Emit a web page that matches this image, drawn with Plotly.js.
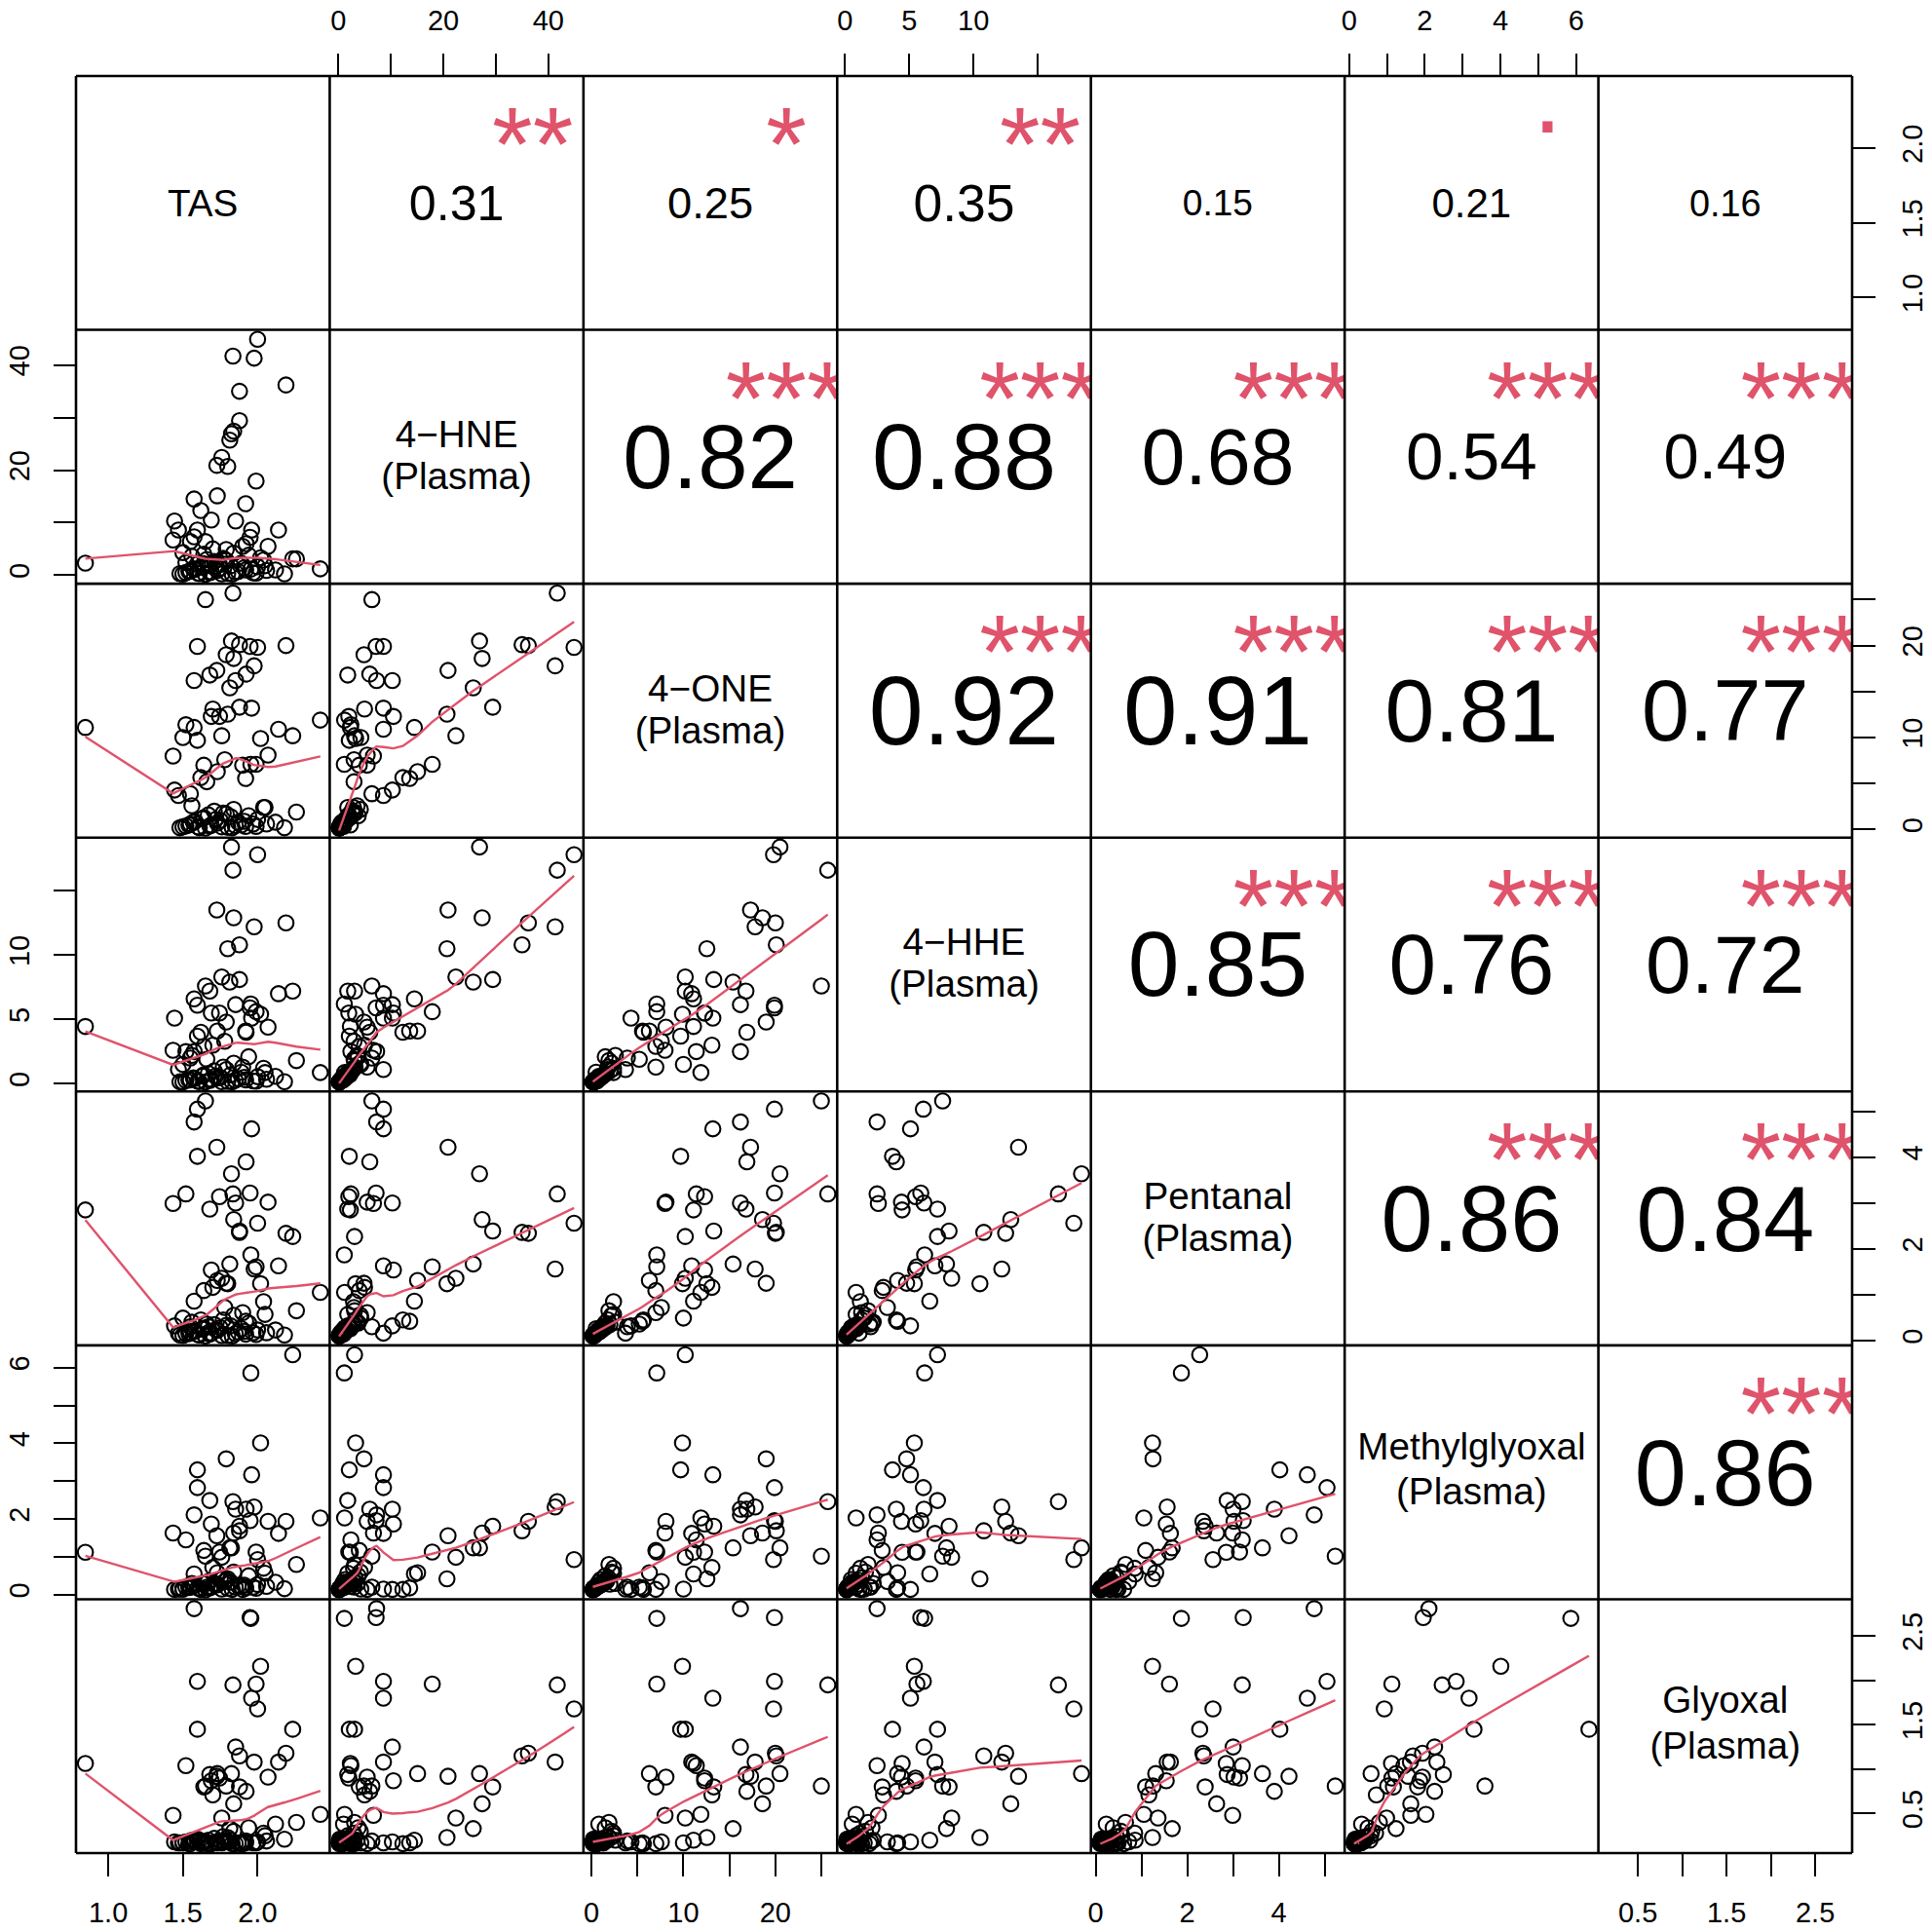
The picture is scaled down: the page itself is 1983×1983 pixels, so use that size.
<!DOCTYPE html>
<html>
<head>
<meta charset="utf-8">
<script src="https://cdn.plot.ly/plotly-3.0.1.min.js"></script>
<style>html,body{margin:0;padding:0;background:#fff}#chart{width:1983px;height:1983px}</style>
</head>
<body>
<div id="chart"></div>
<script>
// ---------------- DATA ----------------
const varLabels = ["TAS", "4\u2212HNE\n(Plasma)", "4\u2212ONE\n(Plasma)", "4\u2212HHE\n(Plasma)", "Pentanal\n(Plasma)", "Methylglyoxal\n(Plasma)", "Glyoxal\n(Plasma)"];

const tas = [2.00,1.835,1.977,1.825,1.727,1.84,2.19,1.879,1.80,1.76,1.814,1.879,
  1.575,1.99,1.73,1.92,1.62,1.444,1.47,1.55,1.853,1.69,
  1.651,1.79,1.597,1.95,1.923,1.68,1.575,1.70,1.96,2.235,1.955,2.02,1.597,
  2.42,1.52,2.14,1.50,2.07,1.434,1.78,1.66,0.847,1.745,1.64,1.90,1.56,2.05,
  1.48,1.52,1.55,1.58,1.60,1.63,1.65,1.67,1.69,1.71,1.73,1.75,1.77,1.80,1.82,1.84,1.87,1.89,1.92,1.94,1.97,2.00,2.04,2.18,2.12,2.26,
  1.50,1.54,1.57,1.61,1.64,1.68,1.72,1.76,1.79,1.85,1.91,1.99,2.06,1.83];
const hne = [44.9,41.7,41.3,26.9,20.9,27.4,36.2,35.0,20.7,22.4,25.7,29.4,
  14.5,17.9,15.1,13.6,12.3,10.3,8.6,6.4,10.3,10.5,
  6.4,4.9,8.6,7.2,6.0,1.8,7.3,5.0,8.6,3.1,1.15,3.3,2.1,
  1.2,2.4,8.6,4.3,5.5,6.7,3.0,3.0,2.3,2.0,4.0,5.5,3.6,1.8,
  0.3,0.5,0.8,1.1,0.4,1.5,0.16,2.0,0.6,2.6,0.9,1.3,3.2,0.35,1.8,4.2,0.7,2.3,1.0,3.8,0.45,1.6,2.9,0.25,1.0,3.1,
  0.2,0.7,1.2,0.3,2.2,0.5,1.7,0.25,2.8,0.6,1.4,0.4,0.9,0.2];
const one = [19.8,25.7,17.8,20.5,17.3,18.6,20.0,20.1,12.55,10.2,15.4,13.3,
  11.1,7.1,6.3,5.55,5.65,4.3,3.7,3.9,16.2,12.3,
  25.0,19.0,19.9,19.9,16.9,16.8,16.2,13.1,13.2,10.2,7.1,9.9,9.7,
  11.9,11.4,10.9,10.0,8.1,8.0,7.6,5.2,11.1,12.3,7.0,7.0,2.6,2.4,
  0.2,0.4,0.6,0.9,0.3,1.2,0.15,1.6,0.5,2.0,0.7,1.0,1.8,0.25,1.4,2.2,0.8,0.5,0.35,1.5,0.6,1.1,2.4,0.2,0.8,1.9,
  0.3,0.5,0.8,0.2,1.3,0.4,1.1,0.3,1.7,0.45,0.9,0.35,0.6,0.2];
const hhe = [17.8,16.6,12.2,18.4,13.5,12.9,12.5,10.8,10.5,8.3,7.9,8.1,
  6.6,5.6,4.1,4.1,4.0,5.1,1.1,2.0,6.15,5.5,
  7.6,4.8,6.1,5.9,4.0,7.2,2.5,3.0,5.1,7.2,6.2,5.4,3.7,
  0.87,2.5,7.0,1.5,4.4,2.6,3.3,1.9,4.45,5.5,2.9,1.3,2.2,0.87,
  0.15,0.25,0.3,0.4,0.2,0.6,0.13,0.8,0.35,1.0,0.45,0.5,1.3,0.18,0.7,1.6,0.4,0.9,0.3,2.1,0.22,0.55,1.2,0.16,0.57,1.8,
  0.14,0.3,0.45,0.17,0.7,0.25,0.6,0.16,1.1,0.28,0.5,0.2,0.35,0.15];
const pent = [2.56,3.20,1.56,3.64,4.22,2.64,2.34,2.36,1.24,1.36,1.67,2.39,
  0.86,1.61,1.31,0.42,0.45,0.32,0.16,0.30,3.0,1.54,
  5.23,1.25,5.05,3.22,3.9,2.87,4.77,1.16,4.62,2.27,1.87,1.24,4.02,
  1.05,3.2,1.63,0.49,3.02,2.99,0.72,0.36,2.85,3.14,1.09,0.61,0.40,0.57,
  0.12,0.15,0.18,0.20,0.13,0.25,0.10,0.30,0.16,0.35,0.22,0.28,0.45,0.11,0.32,0.55,0.19,0.26,0.14,0.38,0.17,0.23,0.85,0.12,0.23,0.65,
  0.11,0.15,0.21,0.12,0.27,0.14,0.24,0.11,0.33,0.15,0.20,0.13,0.17,0.10];
const mg = [0.93,2.46,2.32,1.24,1.56,1.63,1.94,1.69,0.42,0.99,1.24,1.81,
  0.55,1.13,0.58,0.18,0.14,0.14,0.15,0.20,2.26,1.87,
  1.02,3.59,2.83,1.96,2.26,2.49,2.11,0.72,3.17,6.34,5.86,4.01,3.30,
  2.03,1.45,1.62,0.15,1.94,1.63,0.35,0.20,1.12,1.13,1.17,0.14,0.30,0.57,
  0.16,0.20,0.22,0.25,0.18,0.30,0.13,0.35,0.21,0.28,0.26,0.40,0.45,0.17,0.33,0.60,0.24,0.22,0.19,0.50,0.20,0.27,0.70,0.16,0.33,0.80,
  0.15,0.19,0.24,0.16,0.31,0.18,0.29,0.15,0.38,0.20,0.25,0.17,0.22,0.14];
const gly = [1.68,1.95,1.08,0.95,0.92,0.61,1.18,1.15,0.23,0.45,0.33,0.80,
  0.20,1.96,0.95,0.17,0.16,0.18,0.17,0.19,1.25,0.87,
  0.81,0.81,1.99,2.71,0.75,0.94,2.81,0.71,1.80,1.45,2.70,2.16,1.45,
  0.49,1.04,1.08,0.17,0.91,0.48,0.18,0.16,1.065,0.90,0.80,0.16,0.20,0.25,
  0.17,0.18,0.16,0.19,0.21,0.17,0.18,0.20,0.16,0.22,0.17,0.19,0.24,0.18,0.20,0.30,0.17,0.16,0.19,0.34,0.17,0.18,0.28,0.21,0.38,0.40,
  0.17,0.16,0.18,0.19,0.17,0.16,0.18,0.17,0.20,0.16,0.18,0.17,0.19,0.16];

// correlation coefficients (upper triangle, row by row) and significance symbols
const corrRow1 = [0.31, 0.25, 0.35, 0.15, 0.21, 0.16];
const corrRow2 = [0.82, 0.88, 0.68, 0.54, 0.49];
const corrRow3 = [0.92, 0.91, 0.81, 0.77];
const corrRow4 = [0.85, 0.76, 0.72];
const corrRow5 = [0.86, 0.84];
const corrRow6 = [0.86];
const starsRow1 = ["**", "*", "**", "", ".", ""];
const starsRow2 = ["***", "***", "***", "***", "***"];
const starsRow3 = ["***", "***", "***", "***"];
const starsRow4 = ["***", "***", "***"];
const starsRow5 = ["***", "***"];
const starsRow6 = ["***"];

// axis ticks and labels per variable
const tickValsTAS = [1.0, 1.5, 2.0], tickTextTAS = ["1.0", "1.5", "2.0"];
const tickValsHNE = [0, 10, 20, 30, 40], tickTextHNE = ["0", "", "20", "", "40"];
const tickValsONE = [0, 5, 10, 15, 20, 25], tickTextONE = ["0", "", "10", "", "20", ""];
const tickValsHHE = [0, 5, 10, 15], tickTextHHE = ["0", "5", "10", ""];
const tickValsPEN = [0, 1, 2, 3, 4, 5], tickTextPEN = ["0", "", "2", "", "4", ""];
const tickValsMG = [0, 1, 2, 3, 4, 5, 6], tickTextMG = ["0", "", "2", "", "4", "", "6"];
const tickValsGLY = [0.5, 1.0, 1.5, 2.0, 2.5], tickTextGLY = ["0.5", "", "1.5", "", "2.5"];

// ---------------- BUILD ----------------
const vars = [tas, hne, one, hhe, pent, mg, gly];
const corrRows = [corrRow1, corrRow2, corrRow3, corrRow4, corrRow5, corrRow6];
const starRows = [starsRow1, starsRow2, starsRow3, starsRow4, starsRow5, starsRow6];
const tickVals = [tickValsTAS, tickValsHNE, tickValsONE, tickValsHHE, tickValsPEN, tickValsMG, tickValsGLY];
const tickText = [tickTextTAS, tickTextHNE, tickTextONE, tickTextHHE, tickTextPEN, tickTextMG, tickTextGLY];

const W = 1983, H = 1983;
const MARGIN = {l: 78, r: 82, t: 78, b: 81};
const NV = vars.length;
const PW = (W - MARGIN.l - MARGIN.r) / NV;
const PH = (H - MARGIN.t - MARGIN.b) / NV;
const FONT = '"Liberation Sans", Arial, Helvetica, sans-serif';
const RED = '#DF536B';

const ranges = vars.map(v => {
  const mn = Math.min(...v), mx = Math.max(...v), d = mx - mn;
  return [mn - 0.04 * d, mx + 0.04 * d];
});

const ctx = document.createElement('canvas').getContext('2d');
function measure(txt, fs) {
  ctx.font = fs + 'px "Liberation Sans"';
  const m = ctx.measureText(txt);
  return {w: m.width, asc: m.actualBoundingBoxAscent, desc: m.actualBoundingBoxDescent};
}

// R's lowess (clowess port)
function lowess(xIn, yIn, f, iter) {
  const n = xIn.length;
  const o = xIn.map((_, i) => i).sort((a, b) => xIn[a] - xIn[b]);
  const x = o.map(i => xIn[i]), y = o.map(i => yIn[i]);
  const delta = 0.01 * (x[n - 1] - x[0]);
  const ns = Math.max(2, Math.min(n, Math.floor(f * n + 1e-7)));
  const ys = new Array(n).fill(0), rw = new Array(n).fill(1), res = new Array(n).fill(0), w = new Array(n).fill(0);
  const range = x[n - 1] - x[0];
  function lowest(xs, nleft, nright, userw) {
    const h = Math.max(xs - x[nleft], x[nright] - xs);
    const h9 = 0.999 * h, h1 = 0.001 * h;
    let a = 0, j = nleft;
    while (j < n) {
      w[j] = 0;
      const r = Math.abs(x[j] - xs);
      if (r <= h9) {
        w[j] = r <= h1 ? 1 : Math.pow(1 - Math.pow(r / h, 3), 3);
        if (userw) w[j] *= rw[j];
        a += w[j];
      } else if (x[j] > xs) break;
      j++;
    }
    const nrt = j - 1;
    if (a <= 0) return null;
    for (let k = nleft; k <= nrt; k++) w[k] /= a;
    if (h > 0) {
      let aa = 0;
      for (let k = nleft; k <= nrt; k++) aa += w[k] * x[k];
      let b = xs - aa, c = 0;
      for (let k = nleft; k <= nrt; k++) c += w[k] * (x[k] - aa) * (x[k] - aa);
      if (Math.sqrt(c) > 0.001 * range) {
        b /= c;
        for (let k = nleft; k <= nrt; k++) w[k] *= (b * (x[k] - aa) + 1);
      }
    }
    let s = 0;
    for (let k = nleft; k <= nrt; k++) s += w[k] * y[k];
    return s;
  }
  for (let it = 1; it <= iter + 1; it++) {
    let nleft = 0, nright = ns - 1, last = -1, i = 0;
    for (;;) {
      if (nright < n - 1) {
        const d1 = x[i] - x[nleft], d2 = x[nright + 1] - x[i];
        if (d1 > d2) { nleft++; nright++; continue; }
      }
      const v = lowest(x[i], nleft, nright, it > 1);
      ys[i] = (v === null) ? y[i] : v;
      if (last < i - 1) {
        const denom = x[i] - x[last];
        for (let j = last + 1; j < i; j++) {
          const alpha = (x[j] - x[last]) / denom;
          ys[j] = alpha * ys[i] + (1 - alpha) * ys[last];
        }
      }
      last = i;
      const cut = x[last] + delta;
      for (i = last + 1; i < n; i++) {
        if (x[i] > cut) break;
        if (x[i] === x[last]) { ys[i] = ys[last]; last = i; }
      }
      i = Math.max(last + 1, i - 1);
      if (last >= n - 1) break;
    }
    for (let k = 0; k < n; k++) res[k] = y[k] - ys[k];
    let sc = 0;
    for (let k = 0; k < n; k++) sc += Math.abs(res[k]);
    sc /= n;
    if (it > iter) break;
    const ar = res.map(Math.abs).sort((a, b) => a - b);
    const m1 = Math.floor(n / 2);
    let cmad;
    if (n % 2 === 0) { const m2 = n - m1 - 1; cmad = 3 * (ar[m1] + ar[m2]); }
    else cmad = 6 * ar[m1];
    if (cmad < 1e-7 * sc) break;
    const c9 = 0.999 * cmad, c1 = 0.001 * cmad;
    for (let k = 0; k < n; k++) {
      const r = Math.abs(res[k]);
      rw[k] = r <= c1 ? 1 : (r <= c9 ? Math.pow(1 - Math.pow(r / cmad, 2), 2) : 0);
    }
  }
  return {x: x, y: ys};
}

const axSuffix = k => (k === 1 ? '' : String(k));
const traces = [];

// diagonal label font size (R pairs: 0.9 / max strwidth)
const labelLines = varLabels.map(s => s.split('\n'));
let maxW = 0;
labelLines.forEach(ls => ls.forEach(l => { maxW = Math.max(maxW, measure(l, 1).w); }));
const fsLab = 0.9 * PW / maxW;

function yFromPx(i, yT, pxDown) {
  const span = ranges[i][1] - ranges[i][0];
  return yT - pxDown * span / PH;
}
// y for a text point (plotly 'middle center' puts baseline 0.25em below point) so that ink centre lands at yT
function textY(i, yT, txt, fs) {
  const m = measure(txt, fs);
  const inkAbove = (m.asc - m.desc) / 2;
  return yFromPx(i, yT, inkAbove - 0.25 * fs);
}

for (let i = 0; i < NV; i++) {
  for (let j = 0; j < NV; j++) {
    const xa = 'x' + axSuffix(j + 1), ya = 'y' + axSuffix(i + 1);
    const xr = ranges[j], yr = ranges[i];
    const cx = xr[0] + 0.5 * (xr[1] - xr[0]);
    const cy = yr[0] + 0.5 * (yr[1] - yr[0]);
    if (i > j) {
      traces.push({
        type: 'scatter', mode: 'markers', x: vars[j], y: vars[i], xaxis: xa, yaxis: ya,
        marker: {symbol: 'circle-open', size: 15.5, color: '#000', line: {width: 2.1, color: '#000'}},
        hoverinfo: 'skip', cliponaxis: true
      });
      const lw = lowess(vars[j], vars[i], 2 / 3, 3);
      traces.push({
        type: 'scatter', mode: 'lines', x: lw.x, y: lw.y, xaxis: xa, yaxis: ya,
        line: {color: RED, width: 2.4}, hoverinfo: 'skip', cliponaxis: true
      });
    } else if (i === j) {
      const ls = labelLines[i];
      const L = ls.length;
      const ys = ls.map((l, k) => {
        const yT = yFromPx(i, cy, (k - (L - 1) / 2) * 1.2 * fsLab);
        return textY(i, yT, l, fsLab);
      });
      traces.push({
        type: 'scatter', mode: 'text', x: ls.map(() => cx), y: ys, text: ls, xaxis: xa, yaxis: ya,
        textposition: 'middle center', textfont: {family: FONT, size: fsLab, color: '#000'},
        hoverinfo: 'skip', cliponaxis: false
      });
    } else {
      const r = corrRows[i][j - i - 1];
      const st = starRows[i][j - i - 1];
      const txt = r.toFixed(2);
      const base = 0.8 * PW / measure(txt, 1).w;
      const fsNum = base * (Math.abs(r) + 0.3) / 1.3;
      traces.push({
        type: 'scatter', mode: 'text', x: [cx], y: [textY(i, cy, txt, fsNum)], text: [txt], xaxis: xa, yaxis: ya,
        textposition: 'middle center', textfont: {family: FONT, size: fsNum, color: '#000'},
        hoverinfo: 'skip', cliponaxis: true
      });
      if (st) {
        const sx = xr[0] + 0.8 * (xr[1] - xr[0]);
        const sy = yr[0] + 0.8 * (yr[1] - yr[0]);
        traces.push({
          type: 'scatter', mode: 'text', x: [sx], y: [textY(i, sy, st, base)], text: [st], xaxis: xa, yaxis: ya,
          textposition: 'middle center', textfont: {family: FONT, size: base, color: RED},
          hoverinfo: 'skip', cliponaxis: true
        });
      }
    }
  }
}

const TICKFONT = {family: FONT, size: 29, color: '#000'};
const layout = {
  width: W, height: H, margin: {l: MARGIN.l, r: MARGIN.r, t: MARGIN.t, b: MARGIN.b, pad: 0},
  paper_bgcolor: '#fff', plot_bgcolor: '#fff', showlegend: false, hovermode: false,
  font: {family: FONT, color: '#000'}, shapes: []
};
for (let k = 1; k <= NV; k++) {
  const even = (k % 2 === 0);
  layout['xaxis' + axSuffix(k)] = {
    domain: [(k - 1) / NV, k / NV], range: ranges[k - 1], anchor: 'free', position: even ? 1 : 0,
    side: even ? 'top' : 'bottom', tickmode: 'array', tickvals: tickVals[k - 1], ticktext: tickText[k - 1],
    ticks: 'outside', ticklen: 23, tickwidth: 2, tickcolor: '#000', tickfont: TICKFONT, tickangle: 0,
    ticklabelstandoff: 12, showgrid: false, zeroline: false, showline: false, automargin: false, fixedrange: true
  };
  layout['yaxis' + axSuffix(k)] = {
    domain: [1 - k / NV, 1 - (k - 1) / NV], range: ranges[k - 1], anchor: 'free', position: even ? 0 : 1,
    side: even ? 'left' : 'right', tickmode: 'array', tickvals: tickVals[k - 1], ticktext: tickText[k - 1],
    ticks: 'outside', ticklen: 23, tickwidth: 2, tickcolor: '#000', tickfont: TICKFONT, tickangle: -90,
    ticklabelstandoff: 13, showgrid: false, zeroline: false, showline: false, automargin: false, fixedrange: true
  };
}
for (let k = 0; k <= NV; k++) {
  layout.shapes.push({type: 'line', xref: 'paper', yref: 'paper', x0: k / NV, x1: k / NV, y0: 0, y1: 1, line: {color: '#000', width: 2.6}, layer: 'above'});
  layout.shapes.push({type: 'line', xref: 'paper', yref: 'paper', y0: k / NV, y1: k / NV, x0: 0, x1: 1, line: {color: '#000', width: 2.6}, layer: 'above'});
}

Plotly.newPlot('chart', traces, layout, {staticPlot: true, displayModeBar: false});
</script>
</body>
</html>
